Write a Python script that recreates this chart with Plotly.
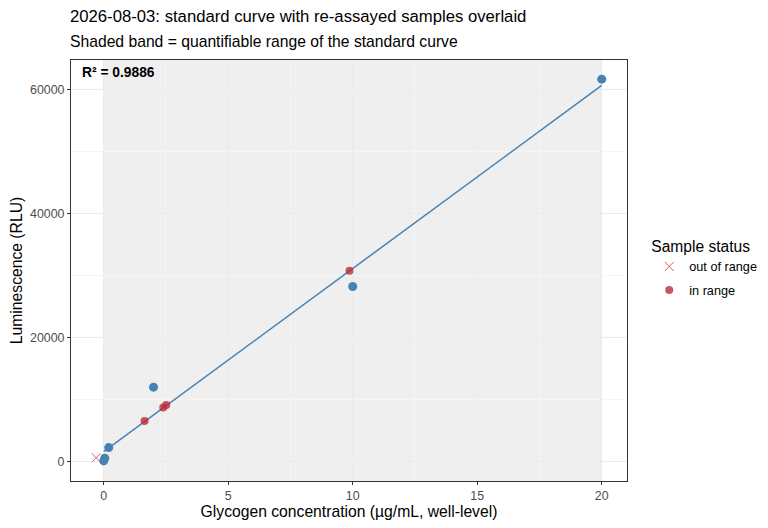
import numpy as np
import plotly.graph_objects as go

# standards (blue)
std_conc = [0.0, 0.04, 0.2, 2.0, 10.0, 20.0]
std_rlu = [150, 600, 2300, 12030, 28240, 61650]

# re-assayed samples
samp_in_conc = [1.64, 2.39, 2.51, 9.87]
samp_in_rlu = [6580, 8775, 9145, 30800]
samp_out_conc = [-0.3]
samp_out_rlu = [650]

band = [0.0, 20.0]
r2_text = "R² = 0.9886"

FONT = "Liberation Sans, Arial, sans-serif"

# linear fit over the standards
slope, icpt = np.polyfit(std_conc, std_rlu, 1)
fit_x = np.array([min(std_conc), max(std_conc)])
fit_y = slope * fit_x + icpt

fig = go.Figure()

fig.add_shape(
    type="rect", xref="x", yref="paper",
    x0=band[0], x1=band[1], y0=0, y1=1,
    fillcolor="rgba(110,110,110,0.11)", line_width=0, layer="between",
)

fig.add_trace(go.Scatter(
    x=fit_x, y=fit_y, mode="lines",
    line=dict(color="#4682B4", width=1.5),
    showlegend=False, hoverinfo="skip",
))
fig.add_trace(go.Scatter(
    x=std_conc, y=std_rlu, mode="markers",
    marker=dict(color="#4682B4", size=9),
    showlegend=False,
))
fig.add_trace(go.Scatter(
    x=samp_out_conc, y=samp_out_rlu, mode="markers", name="out of range",
    legendgroup="out",
    marker=dict(symbol="x-thin", size=9, color="rgba(205,60,60,0.8)",
                line=dict(color="rgba(205,60,60,0.8)", width=1)),
))
fig.add_trace(go.Scatter(
    x=samp_in_conc, y=samp_in_rlu, mode="markers", name="in range",
    legendgroup="in",
    marker=dict(symbol="circle", size=8, color="rgba(185,45,50,0.8)"),
))

axis_common = dict(
    showline=True, linecolor="#333333", linewidth=1, mirror=True,
    ticks="outside", ticklen=3, tickcolor="#333333",
    tickfont=dict(family=FONT, size=12.4, color="#4D4D4D"),
    gridcolor="#EBEBEB", gridwidth=1, zeroline=False, automargin=False,
)

fig.update_xaxes(
    range=[-1.315, 21.015], tickvals=[0, 5, 10, 15, 20],
    minor=dict(showgrid=True, gridcolor="#F5F5F5", tick0=2.5, dtick=5),
    title=dict(text="Glycogen concentration (µg/mL, well-level)",
               font=dict(family=FONT, size=15.7, color="black"), standoff=3),
    **axis_common,
)
fig.update_yaxes(
    range=[-3083, 64733], tickvals=[0, 20000, 40000, 60000], tickformat="d",
    minor=dict(showgrid=True, gridcolor="#F5F5F5", tick0=10000, dtick=20000),
    title=dict(text="Luminescence (RLU)",
               font=dict(family=FONT, size=15.7, color="black"), standoff=6),
    **axis_common,
)

fig.update_layout(
    width=760, height=520,
    margin=dict(l=63, r=141, t=52, b=47, autoexpand=False),
    paper_bgcolor="white", plot_bgcolor="white",
    font=dict(family=FONT),
    legend=dict(
        title=dict(text="Sample status", font=dict(family=FONT, size=15.6, color="black")),
        font=dict(family=FONT, size=12.7, color="black"),
        x=1.04, xanchor="left", y=0.505, yanchor="middle",
        tracegroupgap=4,
    ),
    annotations=[
        dict(text="2026-08-03: standard curve with re-assayed samples overlaid",
             xref="paper", yref="paper", x=0, y=1, xanchor="left", yanchor="bottom",
             xshift=-3, yshift=32, showarrow=False,
             font=dict(family=FONT, size=16.7, color="black")),
        dict(text="Shaded band = quantifiable range of the standard curve",
             xref="paper", yref="paper", x=0, y=1, xanchor="left", yanchor="bottom",
             xshift=-3, yshift=8, showarrow=False,
             font=dict(family=FONT, size=15.7, color="black")),
        dict(text="<b>" + r2_text + "</b>",
             xref="paper", yref="paper", x=0, y=1, xanchor="left", yanchor="top",
             xshift=9, yshift=-3, showarrow=False,
             font=dict(family=FONT, size=13.8, color="black")),
    ],
)

fig.write_html("out.html")
